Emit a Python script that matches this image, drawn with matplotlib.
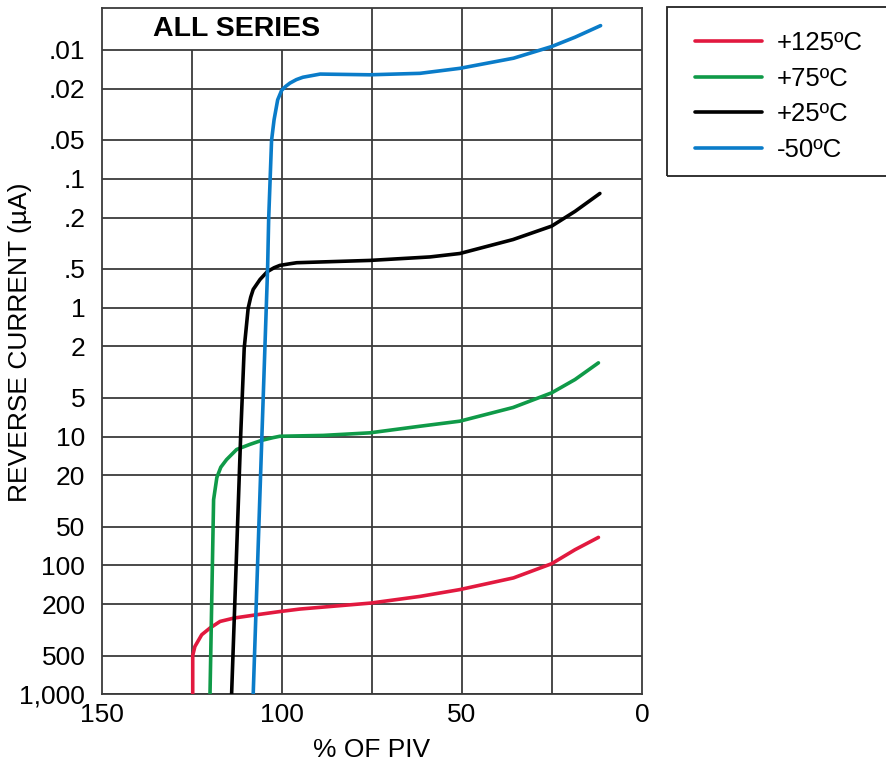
import matplotlib
matplotlib.use("Agg")
import matplotlib.pyplot as plt
from matplotlib.patches import Rectangle

plt.rcParams['font.family'] = ['Liberation Sans', 'DejaVu Sans']

# reverse current (uA) against % of PIV, one curve per temperature
piv_125 = [124.8, 124.8, 124.2, 122.3, 120.0, 117.2, 113.3, 107.3, 100.6, 95.0,
           75.4, 61.7, 50.6, 35.7, 25.1, 18.6, 12.1]
cur_125 = [1000, 500, 426, 345, 306, 272, 256, 242, 228, 218,
           196, 174, 154, 125, 97, 75.5, 60.6]

piv_75 = [120.0, 119.0, 118.1, 117.0, 115.4, 112.6, 108.9, 105.6, 102.5, 100.6, 88.6, 75.6,
          61.7, 50.6, 35.8, 25.1, 18.6, 12.1]
cur_75 = [1000, 30.9, 20.8, 17.3, 15.1, 12.6, 11.5, 10.7, 10.2, 9.95, 9.8, 9.36,
          8.32, 7.6, 5.95, 4.58, 3.61, 2.68]

piv_25 = [114.0, 112.1, 111.5, 110.5, 109.4, 108.7, 108.0, 106.1, 104.1, 102.2, 100.6, 97.5, 95.9,
          75.6, 58.9, 50.6, 35.8, 25.1, 18.6, 11.7]
cur_25 = [1000, 30.9, 10.2, 2.07, 1.01, 0.83, 0.722, 0.604, 0.526, 0.49, 0.470, 0.455, 0.448,
          0.430, 0.404, 0.380, 0.296, 0.233, 0.179, 0.130]

piv_m50 = [108.0, 105.6, 104.0, 103.7, 102.9, 102.2, 101.2, 100.1, 99.0, 97.8, 96.0, 94.2,
           89.4, 75.6, 61.7, 50.6, 35.7, 25.1, 18.6, 11.5]
cur_m50 = [1000, 10.2, 0.496, 0.204, 0.0504, 0.0348, 0.0244, 0.0206, 0.0192, 0.0181, 0.0170, 0.0163,
           0.0154, 0.0156, 0.0152, 0.0139, 0.0116, 0.00942, 0.00797, 0.00648]

series = [
    (piv_125, cur_125, '+125ºC', '#e2193f'),
    (piv_75, cur_75, '+75ºC', '#0f9a48'),
    (piv_25, cur_25, '+25ºC', '#000000'),
    (piv_m50, cur_m50, '-50ºC', '#0a7cc9'),
]

y_ticks = [0.01, 0.02, 0.05, 0.1, 0.2, 0.5, 1, 2, 5, 10, 20, 50, 100, 200, 500, 1000]
y_labels = ['.01', '.02', '.05', '.1', '.2', '.5', '1', '2', '5', '10', '20',
            '50', '100', '200', '500', '1,000']
x_ticks = [150, 100, 50, 0]

W, H = 886, 764
fig = plt.figure(figsize=(W / 100, H / 100), dpi=100)
ax = fig.add_axes([102 / W, 1 - 694.3 / H, 540 / W, 686.3 / H])

ax.set_yscale('log')
ax.set_xlim(150, 0)
ax.set_ylim(1000, 0.00473)

grid_kw = dict(color='#3a3a3a', lw=1.3, zorder=1)
ax.hlines(y_ticks, 150, 0, **grid_kw)
# the title box keeps the first two verticals below the .01 line
ax.vlines([125, 100], 1000, 0.01, **grid_kw)
ax.vlines([75, 50, 25], 1000, 0.00473, **grid_kw)

for xs, ys, label, color in series:
    ax.plot(xs, ys, color=color, lw=2.6, label=label, zorder=3,
            solid_capstyle='round', solid_joinstyle='round')

ax.text(112.7, 0.0069, 'ALL SERIES', fontsize=20.5, fontweight='bold',
        ha='center', va='center')

ax.set_yticks(y_ticks)
ax.set_yticklabels(y_labels)
ax.minorticks_off()
ax.set_xticks(x_ticks)
ax.tick_params(axis='both', length=0, labelsize=19)
ax.tick_params(axis='y', pad=12)
ax.tick_params(axis='x', pad=6)
for sp in ax.spines.values():
    sp.set_color('#3a3a3a')
    sp.set_linewidth(1.3)

ax.set_xlabel('% OF PIV', fontsize=19, labelpad=8)
fig.text(20 / W, 1 - 342 / H, 'REVERSE CURRENT (µA)', fontsize=19,
         rotation=90, ha='center', va='center')

# legend box runs off the right edge
fig.patches.append(Rectangle((667 / W, 1 - 176 / H), 240 / W, 169 / H,
                             transform=fig.transFigure, fill=False,
                             edgecolor='#222222', lw=1.3))
ax.legend(loc='upper left', bbox_to_anchor=(695 / W, 1 - 31 / H),
          bbox_transform=fig.transFigure, frameon=False, fontsize=18.5,
          handlelength=2.6, handletextpad=0.6, labelspacing=0.45,
          borderaxespad=0, borderpad=0)

fig.savefig('out.png', dpi=100)
